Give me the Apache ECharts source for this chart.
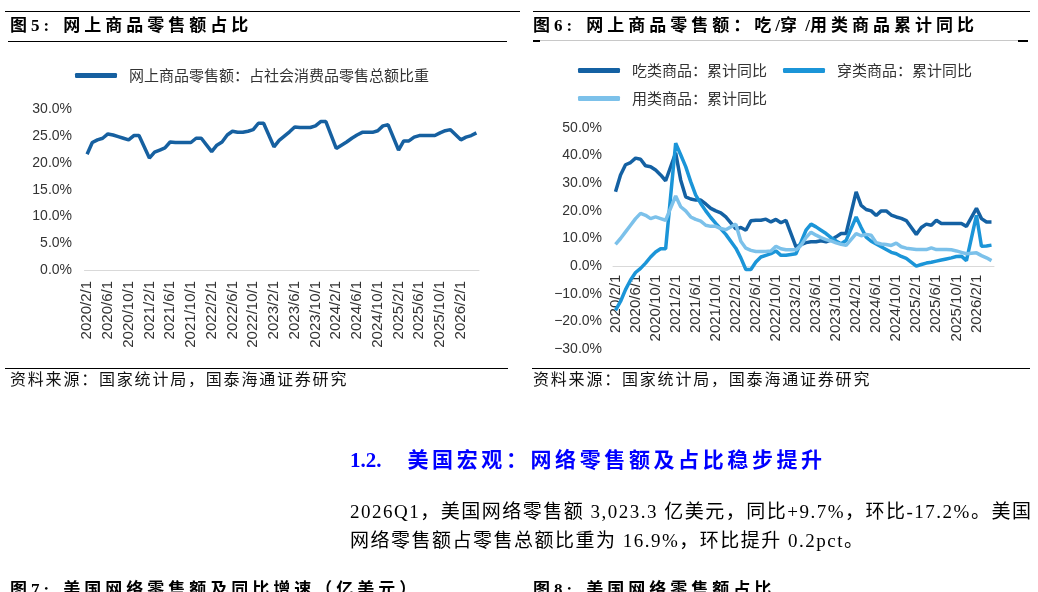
<!DOCTYPE html>
<html>
<head>
<meta charset="utf-8">
<script src="https://cdn.jsdelivr.net/npm/echarts@6/dist/echarts.min.js"></script>
<style>
  html, body { margin: 0; padding: 0; background: #fff; }
  #page { position: relative; width: 1038px; height: 592px; overflow: hidden; }
  #chart { position: absolute; left: 0; top: 0; width: 1038px; height: 592px; }
  .t { position: absolute; white-space: nowrap; color: #000;
       font-family: "Liberation Serif", "Noto Sans CJK SC", serif; }
  .title { font-size: 17px; font-weight: bold; letter-spacing: 4px; line-height: 20px; }
  .src { font-size: 16px; letter-spacing: 1.8px; line-height: 18px; color: #111; }
  .rule { position: absolute; height: 0; border-top: 1px solid #000; }
</style>
</head>
<body>
<div id="page">
  <div id="chart"></div>

  <!-- 图5 -->
  <div class="rule" style="left:5px;top:11px;width:515px;"></div>
  <div class="t title" style="left:10px;top:16px;">图5:<span style="margin-left:10px">网上商品零售额占比</span></div>
  <div class="rule" style="left:8px;top:41px;width:499px;"></div>
  <div class="rule" style="left:5px;top:368px;width:503px;"></div>
  <div class="t src" style="left:10px;top:371px;">资料来源：国家统计局，国泰海通证券研究</div>

  <!-- 图6 -->
  <div class="rule" style="left:533px;top:11px;width:497px;"></div>
  <div class="t title" style="left:533px;top:16px;">图6:<span style="margin-left:10px">网上商品零售额：吃<span style="letter-spacing:0">/</span>穿<span style="letter-spacing:0"> /</span>用类商品累计同比</span></div>
  <div class="rule" style="left:533px;top:40px;width:495px;border-top-color:#c8c8c8;"></div>
  <div class="rule" style="left:533px;top:40px;width:7px;border-top-width:2px;"></div>
  <div class="rule" style="left:1018px;top:40px;width:10px;border-top-width:2px;"></div>
  <div class="rule" style="left:532px;top:368px;width:498px;"></div>
  <div class="t src" style="left:533px;top:371px;">资料来源：国家统计局，国泰海通证券研究</div>

  <!-- 正文 -->
  <div class="t" style="left:350px;top:449px;font-size:21px;font-weight:bold;color:#0000ff;line-height:22px;">1.2.<span style="margin-left:26px;letter-spacing:3.6px;">美国宏观：网络零售额及占比稳步提升</span></div>
  <div class="t" style="left:350px;top:501px;font-size:19px;letter-spacing:1.5px;line-height:22px;">2026Q1，美国网络零售额 3,023.3 亿美元，同比+9.7%，环比-17.2%。美国</div>
  <div class="t" style="left:350px;top:530px;font-size:19px;letter-spacing:1.5px;line-height:22px;">网络零售额占零售总额比重为 16.9%，环比提升 0.2pct。</div>

  <div class="t title" style="left:10px;top:580px;">图7:<span style="margin-left:10px">美国网络零售额及同比增速（亿美元）</span></div>
  <div class="t title" style="left:533px;top:580px;">图8:<span style="margin-left:10px">美国网络零售额占比</span></div>
</div>

<script>
// 月度日期 2020/2/1 ~ 2026/5/1（1月无单独数据）
const dates = [];
for (let y = 2020, m = 2; dates.length < 76; m++) {
  if (m > 12) { m = 1; y++; }
  dates.push(y + "/" + m + "/1");
}

// 图5：网上商品零售额占社零比重（%）
const shareData = [
  21.6, 23.8, 24.3, 24.6, 25.4, 25.2, 24.9, 24.6, 24.3, 25.1, 25.1, null,
  20.9, 22.0, 22.4, 22.8, 23.9, 23.8, 23.8, 23.8, 23.8, 24.6, 24.6, null,
  22.1, 23.3, 23.9, 25.2, 25.9, 25.7, 25.7, 25.9, 26.2, 27.4, 27.4, null,
  23.0, 24.2, 25.0, 25.8, 26.7, 26.6, 26.6, 26.6, 26.9, 27.7, 27.7, null,
  22.7, 23.3, 23.9, 24.6, 25.2, 25.7, 25.7, 25.7, 26.0, 26.9, 27.1, null,
  22.4, 24.1, 24.1, 24.8, 25.1, 25.1, 25.1, 25.1, 25.6, 26.0, 26.2, null,
  24.3, 24.8, 25.1, 25.6
];

// 图6：吃/穿/用类商品累计同比（%）
const foodData = [
  26.9, 33.0, 36.7, 37.5, 39.1, 38.7, 36.3, 36.0, 34.8, 33.0, 30.9, null,
  41.0, 31.2, 25.1, 24.3, 23.9, 23.9, 22.5, 20.9, 20.0, 19.3, 17.8, null,
  13.5, 14.0, 13.0, 16.4, 16.6, 16.6, 17.0, 16.0, 16.9, 15.7, 16.6, null,
  7.0, 7.8, 8.5, 8.8, 8.8, 9.2, 8.8, 9.5, 10.6, 11.8, 11.8, null,
  26.9, 22.0, 20.5, 20.0, 18.3, 20.0, 20.0, 18.5, 17.8, 17.3, 16.5, null,
  11.5, 14.0, 15.2, 14.8, 16.6, 15.4, 15.4, 15.4, 15.4, 15.4, 14.4, null,
  20.9, 17.2, 16.0, 16.0
];
const clothData = [
  -16.0, -12.8, -8.5, -5.0, -2.3, -0.8, 1.1, 3.3, 5.1, 6.3, 6.3, null,
  44.5, 40.3, 36.0, 30.6, 25.7, 22.7, 20.0, 17.6, 15.5, 13.5, 11.5, null,
  6.5, 3.0, -1.2, -1.2, 1.5, 3.3, 3.9, 4.5, 5.5, 3.9, 3.9, null,
  4.5, 8.7, 13.0, 15.2, 14.2, 13.0, 11.8, 10.3, 9.1, 8.1, 9.3, null,
  17.8, 14.0, 10.5, 9.0, 8.0, 7.0, 6.0, 5.0, 4.5, 3.5, 2.8, null,
  0.0, 0.6, 1.1, 1.4, 1.8, 2.2, 2.6, 3.0, 3.5, 3.6, 2.0, null,
  18.4, 7.2, 7.3, 7.6
];
const useData = [
  7.9, 10.0, 12.4, 14.8, 17.2, 19.1, 18.4, 17.2, 17.8, 17.2, 16.6, null,
  25.4, 21.5, 20.0, 17.8, 16.9, 16.3, 14.8, 14.4, 14.4, 13.6, 13.2, null,
  15.2, 9.0, 6.5, 5.7, 5.3, 5.3, 5.3, 5.5, 7.2, 6.3, 5.9, null,
  5.9, 7.5, 10.3, 12.3, 11.2, 10.3, 9.6, 9.1, 8.4, 7.9, 7.5, null,
  11.8, 11.0, 11.5, 11.2, 8.5, 8.0, 7.8, 7.5, 8.3, 7.0, 6.5, null,
  6.0, 6.0, 6.0, 6.6, 6.0, 6.0, 6.0, 5.9, 5.5, 5.0, 4.5, null,
  4.8, 3.8, 3.0, 2.0
];

const cjk = '"Noto Sans CJK SC", sans-serif';
const num = '"Liberation Sans", Arial, sans-serif';

const legendText = { fontSize: 15, color: "#333", fontFamily: cjk, padding: [0, 0, 0, 7] };
const pct = v => (v < 0 ? "−" + Math.abs(v).toFixed(1) : v.toFixed(1)) + "%";

// x轴：右图轴线位于0值处，整条轴（含标签）上移
const xAxisBase = (gridIndex, margin, offset) => ({
  type: "category",
  gridIndex: gridIndex,
  data: dates,
  boundaryGap: true,
  offset: offset,
  axisLine: { onZero: false, lineStyle: { color: "#d9d9d9", width: 1 } },
  axisTick: { interval: 3, length: 4, lineStyle: { color: "#d9d9d9" } },
  axisLabel: { interval: 3, rotate: 90, fontSize: 15, color: "#333", margin: margin, fontFamily: num }
});

const yAxisBase = (gridIndex, min, max, interval, margin) => ({
  type: "value",
  gridIndex: gridIndex,
  min: min,
  max: max,
  interval: interval,
  axisLine: { show: false },
  axisTick: { show: false },
  splitLine: { show: false },
  axisLabel: { formatter: pct, fontSize: 14, color: "#333", margin: margin, fontFamily: num }
});

const lineSeries = (name, data, color, axisIndex) => ({
  name: name,
  type: "line",
  xAxisIndex: axisIndex,
  yAxisIndex: axisIndex,
  data: data,
  symbol: "none",
  connectNulls: true,
  lineStyle: { width: 3.5, color: color },
  itemStyle: { color: color }
});

const chart = echarts.init(document.getElementById("chart"));
chart.setOption({
  animation: false,
  grid: [
    { left: 84.5, top: 109.3, width: 394.5, height: 160.7 },
    { left: 613, top: 128, width: 381, height: 221 }
  ],
  legend: [
    {
      data: ["网上商品零售额：占社会消费品零售总额比重"],
      left: 70, top: 63,
      icon: "roundRect", itemWidth: 42, itemHeight: 5,
      textStyle: legendText
    },
    {
      data: ["吃类商品：累计同比", "穿类商品：累计同比"],
      left: 573, top: 58, itemGap: 16,
      icon: "roundRect", itemWidth: 42, itemHeight: 5,
      textStyle: legendText
    },
    {
      data: ["用类商品：累计同比"],
      left: 573, top: 86,
      icon: "roundRect", itemWidth: 42, itemHeight: 5,
      textStyle: legendText
    }
  ],
  xAxis: [xAxisBase(0, 11, 0), xAxisBase(1, 8, -82.3)],
  yAxis: [yAxisBase(0, 0, 30, 5, 12.5), yAxisBase(1, -30, 50, 10, 11)],
  series: [
    lineSeries("网上商品零售额：占社会消费品零售总额比重", shareData, "#1660a0", 0),
    lineSeries("吃类商品：累计同比", foodData, "#1461a3", 1),
    lineSeries("穿类商品：累计同比", clothData, "#1b95d8", 1),
    lineSeries("用类商品：累计同比", useData, "#7cc1ea", 1)
  ]
});
</script>
</body>
</html>
